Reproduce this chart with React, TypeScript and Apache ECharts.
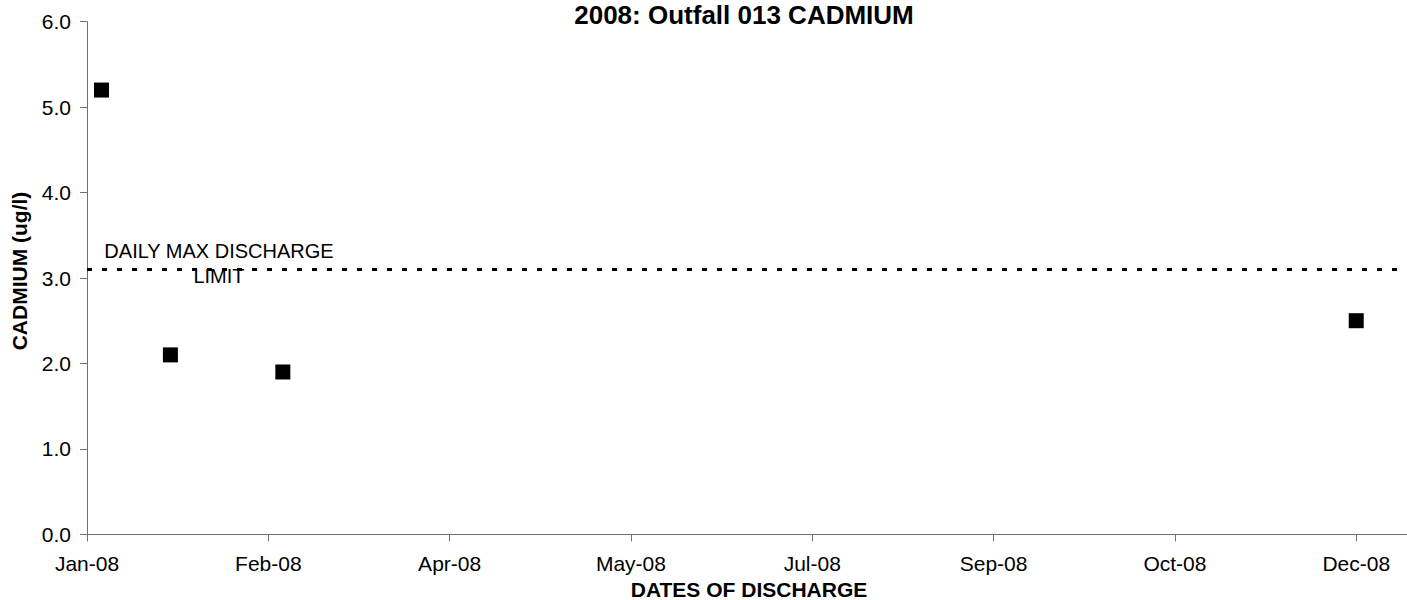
import React, { useEffect, useRef } from "react";
import * as echarts from "echarts";

// ---- data ----
const sampleDates: string[] = ["2008-01-05", "2008-01-24", "2008-02-24", "2008-12-16"];
const cadmiumValues: number[] = [5.2, 2.1, 1.9, 2.5];
const dailyMaxLimit = 3.1;
const axisStartDate = "2008-01-01";
const axisEndDay = 364; // days after start
const xTickIntervalDays = 50;
const yTicks: number[] = [0, 1, 2, 3, 4, 5, 6];

const titleText = "2008: Outfall 013 CADMIUM";
const xAxisTitle = "DATES OF DISCHARGE";
const yAxisTitle = "CADMIUM (ug/l)";
const limitLabel = "DAILY MAX DISCHARGE\nLIMIT";

const MONTHS = ["Jan", "Feb", "Mar", "Apr", "May", "Jun", "Jul", "Aug", "Sep", "Oct", "Nov", "Dec"];
const DAY_MS = 86400000;
const startMs = Date.parse(axisStartDate + "T00:00:00Z");
const toDay = (s: string) => Math.round((Date.parse(s + "T00:00:00Z") - startMs) / DAY_MS);
const fmtDay = (v: number) => {
  const d = new Date(startMs + v * DAY_MS);
  return MONTHS[d.getUTCMonth()] + "-" + String(d.getUTCFullYear() % 100).padStart(2, "0");
};

const FONT = 'Arial, "Liberation Sans", Helvetica, sans-serif';

export default function App() {
  const ref = useRef<HTMLDivElement>(null);
  useEffect(() => {
    if (!ref.current) return;
    const chart = echarts.init(ref.current, null, { renderer: "svg" });
    const points = sampleDates.map((d, i) => [toDay(d), cadmiumValues[i]]);
    chart.setOption({
      animation: false,
      backgroundColor: "#fff",
      grid: { left: 87, right: 0, top: 21.7, bottom: 65.7, containLabel: false },
      xAxis: {
        type: "value",
        min: 0,
        max: axisEndDay,
        interval: xTickIntervalDays,
        splitLine: { show: false },
        axisLine: { show: true, lineStyle: { color: "#707070", width: 1 } },
        axisTick: { show: true, length: 7, inside: false, lineStyle: { color: "#707070" } },
        axisLabel: {
          margin: 19,
          fontSize: 21,
          fontFamily: FONT,
          color: "#000",
          showMaxLabel: false,
          formatter: (v: number) => (v % xTickIntervalDays === 0 ? fmtDay(v) : ""),
        },
      },
      yAxis: {
        type: "value",
        min: yTicks[0],
        max: yTicks[yTicks.length - 1],
        interval: 1,
        splitLine: { show: false },
        axisLine: { show: true, lineStyle: { color: "#707070", width: 1 } },
        axisTick: { show: true, length: 7, inside: false, lineStyle: { color: "#707070" } },
        axisLabel: {
          margin: 16,
          fontSize: 21,
          fontFamily: FONT,
          color: "#000",
          formatter: (v: number) => v.toFixed(1),
        },
      },
      series: [
        {
          type: "line",
          data: [
            [0, dailyMaxLimit],
            [axisEndDay, dailyMaxLimit],
          ],
          symbol: "none",
          silent: true,
          lineStyle: { color: "#000", width: 3, type: [5, 10], opacity: 1 },
          z: 1,
        },
        {
          type: "scatter",
          data: points,
          symbol: "rect",
          symbolSize: 15,
          itemStyle: { color: "#000", opacity: 1 },
          z: 3,
        },
      ],
      graphic: [
        {
          type: "text",
          x: 744,
          y: 15,
          style: {
            text: titleText,
            fontSize: 26,
            fontWeight: "bold",
            fontFamily: FONT,
            fill: "#000",
            align: "center",
            verticalAlign: "middle",
          },
        },
        {
          type: "text",
          x: 749,
          y: 589,
          style: {
            text: xAxisTitle,
            fontSize: 21,
            fontWeight: "bold",
            fontFamily: FONT,
            fill: "#000",
            align: "center",
            verticalAlign: "middle",
          },
        },
        {
          type: "text",
          x: 19,
          y: 271,
          rotation: Math.PI / 2,
          style: {
            text: yAxisTitle,
            fontSize: 21,
            fontWeight: "bold",
            fontFamily: FONT,
            fill: "#000",
            align: "center",
            verticalAlign: "middle",
          },
        },
        {
          type: "text",
          x: 219,
          y: 263,
          z: 10,
          style: {
            text: limitLabel,
            fontSize: 20,
            lineHeight: 25,
            fontFamily: FONT,
            fill: "#000",
            align: "center",
            verticalAlign: "middle",
          },
        },
      ],
    });
    return () => chart.dispose();
  }, []);
  return <div ref={ref} style={{ position: "absolute", left: 0, top: 0, width: 1407, height: 600 }} />;
}
